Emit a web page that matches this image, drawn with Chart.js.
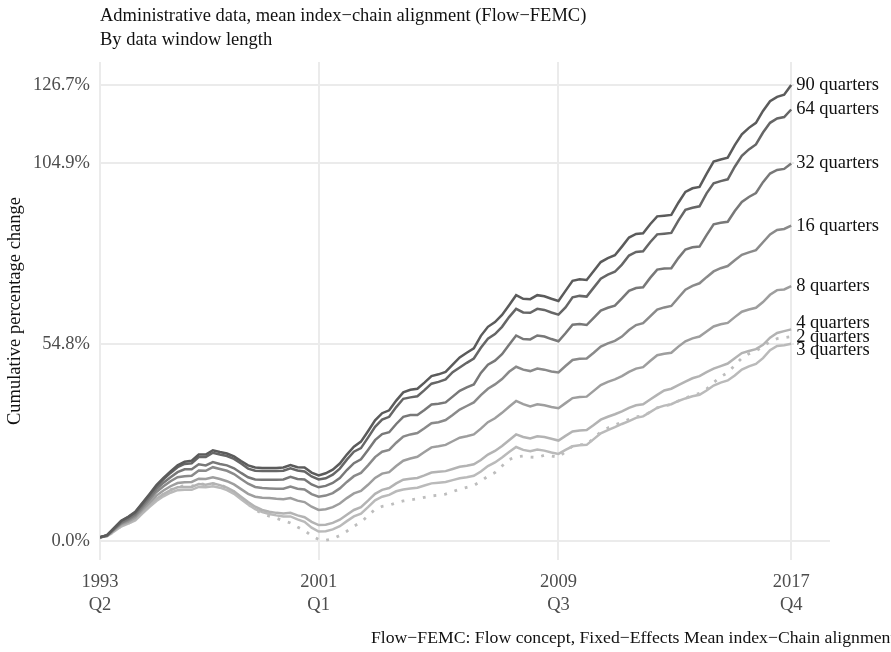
<!DOCTYPE html>
<html>
<head>
<meta charset="utf-8">
<script src="https://cdn.jsdelivr.net/npm/chart.js@4"></script>
<style>
  html, body { margin: 0; padding: 0; background: #fff; }
  canvas { display: block; }
</style>
</head>
<body>
<canvas id="diagram" width="891" height="652"></canvas>
<script>
// cumulative percentage change per data window length, 1993 Q2 .. 2017 Q4
const q90 = [
  1.0, 1.6, 3.6, 5.6, 6.7, 8.1, 10.5, 13.0, 15.5, 17.5,
  19.3, 21.0, 22.0, 22.3, 24.0, 24.0, 25.2, 24.7, 24.3, 23.5,
  22.2, 21.0, 20.4, 20.3, 20.3, 20.3, 20.4, 21.1, 20.5, 20.4,
  19.0, 18.2, 18.8, 19.8, 21.5, 24.0, 26.2, 27.6, 30.5, 33.5,
  35.5, 36.3, 39.0, 41.3, 42.0, 42.3, 44.0, 45.8, 46.3, 47.0,
  49.0, 51.0, 52.3, 53.5, 57.0, 59.5, 60.8, 62.8, 65.5, 68.3,
  67.3, 67.2, 68.3, 68.0, 67.3, 66.7, 69.5, 72.3, 72.7, 72.5,
  75.0, 77.5, 78.6, 79.4, 81.8, 84.3, 85.3, 85.5, 88.0, 90.2,
  90.4, 90.6, 94.0, 97.0, 98.0, 98.4, 102.0, 105.4, 106.0, 106.5,
  110.0, 113.0, 114.8, 116.2, 119.5, 122.2, 123.4, 124.0, 126.7
];
const q64 = [
  1.0, 1.6, 3.5, 5.5, 6.6, 7.9, 10.3, 12.7, 15.2, 17.1,
  18.9, 20.5, 21.4, 21.6, 23.3, 23.3, 24.5, 24.0, 23.6, 22.8,
  21.5, 20.1, 19.5, 19.4, 19.4, 19.4, 19.5, 20.2, 19.6, 19.3,
  17.9, 17.1, 17.4, 18.4, 20.1, 22.6, 24.8, 25.8, 28.7, 31.7,
  33.7, 34.5, 37.2, 39.5, 39.9, 40.2, 41.9, 43.7, 44.2, 44.9,
  46.9, 48.2, 49.5, 50.7, 53.7, 56.2, 57.5, 59.5, 62.2, 64.5,
  63.5, 63.4, 64.5, 64.2, 63.5, 62.9, 64.9, 67.7, 68.1, 67.9,
  70.4, 72.9, 74.0, 74.8, 76.8, 79.3, 80.3, 80.5, 83.0, 85.2,
  85.4, 85.6, 89.0, 92.0, 92.6, 93.0, 96.6, 99.4, 100.0, 100.5,
  104.0, 107.0, 108.8, 110.2, 113.5, 116.2, 117.4, 117.8, 119.9
];
const q32 = [
  1.0, 1.5, 3.3, 5.1, 6.1, 7.4, 9.7, 12.1, 14.4, 16.2,
  17.7, 19.1, 19.9, 19.9, 21.3, 21.0, 21.9, 21.4, 21.0, 20.2,
  18.9, 17.7, 17.1, 17.0, 17.0, 17.0, 17.1, 17.8, 17.2, 17.1,
  15.7, 14.9, 15.3, 16.1, 17.5, 19.7, 21.6, 22.7, 25.3, 28.0,
  29.7, 30.2, 32.5, 34.5, 35.0, 35.0, 36.4, 37.9, 38.1, 38.5,
  40.1, 41.7, 42.7, 43.5, 46.7, 49.0, 50.1, 51.9, 54.5, 57.1,
  56.1, 56.0, 57.1, 56.8, 56.1, 55.5, 57.7, 60.1, 60.3, 60.0,
  62.0, 64.0, 64.8, 65.4, 67.4, 69.5, 70.3, 70.5, 73.1, 75.4,
  75.7, 75.8, 78.6, 81.0, 81.6, 81.8, 85.0, 88.0, 88.4, 88.7,
  91.7, 94.2, 95.6, 96.7, 99.7, 102.1, 103.1, 103.4, 104.9
];
const q16 = [
  1.0, 1.5, 3.2, 4.9, 5.8, 7.0, 9.2, 11.4, 13.6, 15.2,
  16.6, 17.7, 18.0, 18.1, 19.6, 19.5, 20.5, 20.0, 19.5, 18.6,
  17.2, 15.9, 15.0, 14.7, 14.6, 14.5, 14.5, 15.1, 14.5, 14.3,
  13.0, 12.3, 12.6, 13.3, 14.6, 16.4, 18.0, 18.9, 21.0, 23.3,
  24.8, 25.3, 27.3, 29.0, 29.6, 30.0, 31.3, 32.7, 33.0, 33.6,
  35.0, 36.5, 37.5, 38.5, 40.5, 42.3, 43.5, 45.0, 47.0, 48.4,
  47.6, 47.2, 47.9, 47.6, 47.1, 46.8, 48.6, 50.3, 50.6, 50.7,
  52.3, 54.0, 54.9, 55.6, 56.8, 58.6, 60.0, 60.5, 62.4, 64.3,
  64.9, 65.3, 67.6, 69.8, 70.9, 71.6, 73.3, 74.9, 75.8, 76.4,
  78.0, 79.5, 80.2, 80.8, 83.0, 85.2, 86.4, 86.7, 87.6
];
const q8 = [
  1.0, 1.4, 3.0, 4.6, 5.4, 6.5, 8.6, 10.6, 12.6, 14.0,
  15.2, 16.1, 16.3, 16.4, 17.3, 17.2, 17.7, 17.2, 16.6, 15.7,
  14.4, 13.1, 12.3, 12.0, 11.9, 11.7, 11.6, 11.9, 11.2, 10.8,
  9.5, 8.6, 8.8, 9.4, 10.4, 11.9, 13.2, 13.9, 15.6, 17.5,
  18.7, 19.1, 20.8, 22.3, 22.9, 23.4, 24.7, 26.0, 26.3, 26.7,
  27.7, 28.7, 29.1, 29.6, 31.2, 33.0, 34.1, 35.6, 37.3, 38.9,
  38.0, 37.4, 38.0, 37.7, 37.2, 36.9, 38.3, 39.7, 40.0, 40.1,
  41.7, 43.3, 44.2, 44.9, 45.8, 47.0, 47.9, 48.3, 50.0, 51.6,
  52.0, 52.3, 54.0, 55.5, 56.3, 56.8, 58.2, 59.6, 60.2, 60.6,
  62.2, 63.7, 64.3, 64.8, 66.4, 68.4, 69.7, 69.9, 70.8
];
const q4 = [
  1.0, 1.4, 2.8, 4.3, 5.0, 6.0, 8.0, 9.9, 11.7, 13.0,
  14.1, 14.9, 15.0, 15.0, 15.8, 15.6, 16.0, 15.5, 14.8, 13.8,
  12.3, 10.8, 9.5, 8.6, 8.1, 7.8, 7.6, 7.8, 7.1, 6.6,
  5.3, 4.4, 4.5, 5.0, 5.9, 7.3, 8.6, 9.4, 11.2, 13.1,
  14.2, 14.7, 16.0, 17.0, 17.3, 17.5, 18.2, 19.0, 19.2, 19.4,
  20.0, 20.6, 20.9, 21.3, 22.5, 24.0, 25.0, 26.4, 28.0, 29.6,
  28.9, 28.5, 29.1, 28.9, 28.4, 27.9, 29.2, 30.4, 30.7, 30.8,
  32.2, 33.7, 34.5, 35.2, 36.0, 37.0, 37.7, 38.0, 39.3, 40.6,
  41.8, 42.3, 43.3, 44.3, 45.2, 45.8, 46.9, 47.9, 48.6, 49.3,
  50.8, 52.2, 52.8, 53.3, 54.5, 56.5, 57.8, 58.3, 58.8
];
const q3 = [
  1.0, 1.3, 2.6, 4.0, 4.8, 5.7, 7.6, 9.4, 11.1, 12.4,
  13.4, 14.1, 14.2, 14.2, 15.0, 14.9, 15.2, 14.8, 14.1, 13.1,
  11.6, 10.1, 8.8, 8.0, 7.5, 7.1, 6.8, 6.8, 6.0, 5.3,
  3.7, 2.6, 2.7, 3.2, 4.1, 5.5, 6.8, 7.6, 9.4, 11.3,
  12.3, 12.8, 13.8, 14.3, 14.6, 14.8, 15.4, 16.0, 16.2, 16.4,
  16.9, 17.4, 17.7, 18.1, 19.3, 20.8, 21.8, 23.2, 24.7, 26.1,
  25.3, 24.9, 25.4, 25.1, 24.6, 24.2, 25.3, 26.3, 26.6, 26.7,
  28.3, 29.9, 30.8, 31.6, 32.5, 33.3, 34.2, 34.6, 35.8, 37.0,
  37.6, 38.0, 38.9, 39.6, 40.2, 40.6, 41.8, 43.2, 44.0, 44.6,
  46.0, 47.6, 48.5, 49.2, 50.8, 53.0, 54.2, 54.4, 54.8
];
const q2 = [
  1.0, 1.3, 2.6, 4.1, 4.9, 5.8, 7.8, 9.7, 11.6, 13.0,
  14.2, 15.1, 15.3, 15.2, 16.0, 15.6, 15.9, 15.6, 14.8, 13.6,
  11.9, 10.2, 8.7, 7.6, 6.9, 6.3, 5.6, 5.0, 3.9, 2.9,
  1.4, 0.4, 0.2, 0.6, 1.5, 2.7, 4.1, 5.2, 7.0, 8.8,
  9.6, 9.9, 10.6, 11.1, 11.4, 11.7, 12.1, 12.5, 12.7, 13.0,
  13.7, 14.4, 14.9, 15.4, 16.6, 18.0, 19.0, 20.8, 22.6, 23.4,
  23.6, 23.3, 23.2, 23.8, 23.6, 23.3, 24.8, 26.4, 26.8, 26.7,
  28.6, 30.3, 31.4, 32.2, 33.0, 33.8, 34.5, 34.8, 35.8, 37.0,
  37.5, 37.9, 38.9, 39.7, 40.4, 41.0, 42.2, 44.0, 45.6, 46.8,
  48.8, 50.8, 52.0, 52.8, 54.0, 55.4, 56.2, 56.5, 56.8
];

const windowNames = ["90 quarters", "64 quarters", "32 quarters", "16 quarters",
                     "8 quarters", "4 quarters", "2 quarters", "3 quarters"];
const windowValues = [q90, q64, q32, q16, q8, q4, q2, q3];
const xTickIndex = [0, 31, 65, 98];
const yTickValues = [0, 54.8, 104.9, 126.7];

// greys get lighter as the window gets shorter
const lineColors = ["#5b5b5b", "#666666", "#787878", "#8a8a8a", "#9e9e9e", "#b3b3b3", "#bdbdbd", "#bababa"];
// end labels pushed apart where the short windows bunch together
const labelShift = [0, 0, 0, 0, 0, -6, 1, 6];

// quarter labels: 1993 Q2 is the first observation
const quarters = [];
for (let k = 0; k < q90.length; k++) {
  const m = k + 1;
  quarters.push([String(1993 + Math.floor(m / 4)), "Q" + (m % 4 + 1)]);
}

const serif = '"Liberation Serif", "Times New Roman", serif';

const datasets = windowNames.map((name, k) => ({
  label: name,
  data: windowValues[k].map((v, i) => ({ x: i, y: v })),
  borderColor: lineColors[k],
  borderWidth: name === "2 quarters" ? 2.8 : 2.5,
  borderDash: name === "2 quarters" ? [2.8, 8] : [],
  pointRadius: 0,
  tension: 0,
  fill: false
}));

const texts = {
  id: "texts",
  afterDraw(chart) {
    const ctx = chart.ctx;
    ctx.save();
    ctx.fillStyle = "#111";
    ctx.textAlign = "left";
    ctx.textBaseline = "middle";
    ctx.font = "18.5px " + serif;
    ctx.fillText("Administrative data, mean index\u2212chain alignment (Flow\u2212FEMC)", 100, 16);
    ctx.fillText("By data window length", 100, 40);
    ctx.font = "17.7px " + serif;
    ctx.fillText("Flow\u2212FEMC: Flow concept, Fixed\u2212Effects Mean index\u2212Chain alignment", 371, 638);
    ctx.restore();
  }
};

const endLabels = {
  id: "endLabels",
  afterDatasetsDraw(chart) {
    const ctx = chart.ctx;
    const xs = chart.scales.x;
    const ys = chart.scales.y;
    ctx.save();
    ctx.font = "18.5px " + serif;
    ctx.textBaseline = "middle";
    ctx.textAlign = "left";
    const spots = chart.data.datasets.map((ds, k) => {
      const last = ds.data[ds.data.length - 1];
      return {
        text: ds.label,
        x: xs.getPixelForValue(last.x) + 5,
        y: ys.getPixelForValue(last.y) + labelShift[k]
      };
    });
    ctx.fillStyle = "#fff";
    spots.forEach(s => {
      ctx.fillRect(s.x - 2, s.y - 7, ctx.measureText(s.text).width + 4, 14);
    });
    ctx.fillStyle = "#111";
    spots.forEach(s => ctx.fillText(s.text, s.x, s.y));
    ctx.restore();
  }
};

new Chart("diagram", {
  type: "line",
  data: { datasets: datasets },
  plugins: [endLabels, texts],
  options: {
    responsive: false,
    animation: false,
    events: [],
    layout: { padding: { left: 0, right: 61, top: 62, bottom: 0 } },
    plugins: {
      legend: { display: false },
      tooltip: { enabled: false }
    },
    scales: {
      x: {
        type: "linear",
        min: 0,
        max: 103.5,
        border: { display: false },
        grid: { color: "#ebebeb", lineWidth: 2, drawTicks: false },
        afterBuildTicks: s => { s.ticks = xTickIndex.map(v => ({ value: v })); },
        afterFit: s => { s.height = 92; },
        ticks: {
          autoSkip: false,
          maxRotation: 0,
          padding: 10,
          color: "#4d4d4d",
          font: { family: serif, size: 18.5, lineHeight: 1.27 },
          callback: v => quarters[v]
        }
      },
      y: {
        min: -5.3,
        max: 133.1,
        border: { display: false },
        grid: { color: "#ebebeb", lineWidth: 2, drawTicks: false },
        afterBuildTicks: s => { s.ticks = yTickValues.map(v => ({ value: v })); },
        afterFit: s => { s.width = 100; },
        ticks: {
          padding: 10,
          color: "#4d4d4d",
          font: { family: serif, size: 18.5 },
          callback: v => v.toFixed(1) + "%"
        },
        title: {
          display: true,
          text: "Cumulative percentage change",
          color: "#111",
          font: { family: serif, size: 18.5 },
          padding: { top: 4, bottom: 0 }
        }
      }
    }
  }
});
</script>
</body>
</html>
